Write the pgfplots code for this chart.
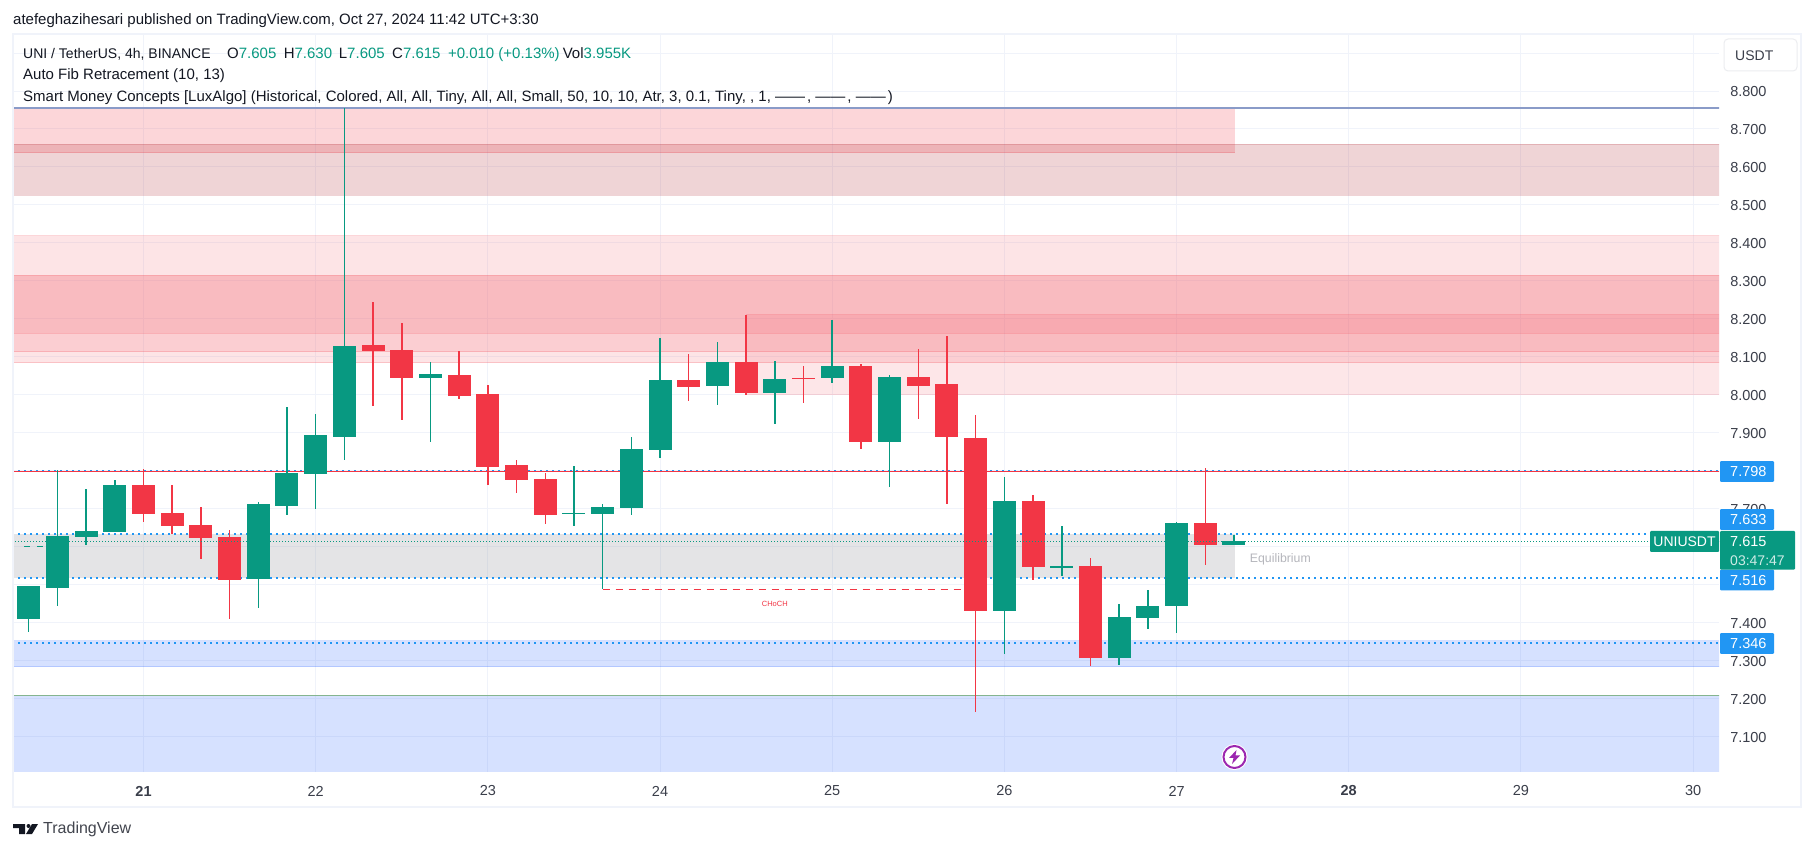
\documentclass[border=0pt]{standalone}
\usepackage{fontspec}
\setmainfont{Liberation Sans}
\usepackage{pgfplots}
\usepackage{pgfplotstable}
\pgfplotsset{compat=1.18}

\definecolor{tvgreen}{HTML}{089981}
\definecolor{tvred}{HTML}{F23645}
\definecolor{tvblue}{HTML}{2196F3}
\definecolor{tvzone}{HTML}{2962FF}
\definecolor{tvgrid}{HTML}{F0F3FA}
\definecolor{tvtext}{HTML}{131722}
\definecolor{tvaxis}{HTML}{3A3E4A}
\definecolor{tvgrey}{HTML}{787B86}
\definecolor{tvmaroon}{HTML}{B22833}
\definecolor{tvpurple}{HTML}{9C27B0}
\definecolor{tvfib}{HTML}{8A9BC8}
\definecolor{tvfibgreen}{HTML}{85B58F}

% i open high low close
\pgfplotstableread{
i open high low close
0 7.410 7.497 7.376 7.497
1 7.492 7.802 7.444 7.629
2 7.626 7.752 7.605 7.642
3 7.639 7.776 7.639 7.763
8 7.515 7.718 7.439 7.713
9 7.708 7.968 7.684 7.794
10 7.792 7.950 7.700 7.895
11 7.889 8.755 7.829 8.129
14 8.045 8.087 7.876 8.055
19 7.687 7.813 7.655 7.689
20 7.687 7.713 7.488 7.705
21 7.702 7.889 7.684 7.858
22 7.855 8.150 7.834 8.039
24 8.024 8.140 7.974 8.087
26 8.005 8.090 7.924 8.042
28 8.045 8.198 8.032 8.076
30 7.876 8.053 7.758 8.047
34 7.431 7.784 7.318 7.721
36 7.544 7.655 7.523 7.549
38 7.307 7.449 7.289 7.415
39 7.412 7.486 7.384 7.444
40 7.444 7.665 7.373 7.663
42 7.605 7.630 7.605 7.615
}\upbars
\pgfplotstableread{
i open high low close
4 7.763 7.804 7.665 7.687
5 7.689 7.763 7.634 7.655
6 7.658 7.705 7.568 7.623
7 7.626 7.644 7.410 7.513
12 8.132 8.245 7.971 8.116
13 8.119 8.190 7.934 8.045
15 8.053 8.116 7.989 7.997
16 8.003 8.026 7.763 7.810
17 7.816 7.829 7.742 7.776
18 7.779 7.794 7.660 7.684
23 8.039 8.108 7.984 8.021
25 8.087 8.211 8.000 8.005
27 8.045 8.076 7.979 8.042
29 8.076 8.082 7.858 7.876
31 8.047 8.121 7.937 8.024
32 8.029 8.155 7.713 7.889
33 7.887 7.947 7.165 7.431
35 7.721 7.736 7.513 7.547
37 7.549 7.571 7.286 7.307
41 7.663 7.808 7.552 7.605
}\downbars

% zone: x0 x1 low high colour opacity
\newcommand{\zone}[6]{%
  \addplot[draw=none,fill=#5,fill opacity=#6] coordinates {(#1,#3)(#2,#3)(#2,#4)(#1,#4)} -- cycle;
  \addplot[#5,line width=1pt,opacity=0.2] coordinates {(#1,#3)(#2,#3)};
  \addplot[#5,line width=1pt,opacity=0.2] coordinates {(#1,#4)(#2,#4)};
}
\newcommand{\dotline}[1]{%
  \addplot[tvblue,line width=2pt,dash pattern=on 2pt off 4pt] coordinates {(-1,#1)(60,#1)};
}
\newcommand{\pricetag}[2]{% y centre from the bottom, text
  \fill[tvblue,rounded corners=1pt] (1720,#1-10.3) rectangle (1774,#1+10.3);
  \node[anchor=west,text=white,inner sep=0pt,font=\fontsize{14.5}{15}\selectfont] at (1730,#1-0.5) {#2};
}
\tikzset{hdr/.style={anchor=base west,text=tvtext,inner sep=0pt,font=\fontsize{15}{16}\selectfont}}

\begin{document}
\begin{tikzpicture}[x=1pt,y=1pt]
\fill[white] (0,0) rectangle (1814,851);
\useasboundingbox (0,0) rectangle (1814,851);
\draw[tvgrid,line width=2pt] (13,44) rectangle (1801,817);
\begin{axis}[
    at={(14pt,79pt)},
    anchor=south west,
    scale only axis,
    width=1705pt,
    height=737pt,
    xmin=-0.513,
    xmax=58.905,
    ymin=7.0068,
    ymax=8.9475,
    axis line style={draw=none},
    major tick length=0pt,
    xtick={4,10,16,22,28,34,40,46,52,58},
    xticklabels={\textbf{21},22,23,24,25,26,27,\textbf{28},29,30},
    ytick={7.1,7.2,7.3,7.4,7.5,7.6,7.7,7.8,7.9,8.0,8.1,8.2,8.3,8.4,8.5,8.6,8.7,8.8,8.9},
    yticklabels={7.100,7.200,7.300,7.400,,,7.700,,7.900,8.000,8.100,8.200,8.300,8.400,8.500,8.600,8.700,8.800,},
    yticklabel pos=right,
    tick label style={font=\fontsize{14.5}{15}\selectfont,text=tvaxis},
    yticklabel style={anchor=west,inner sep=0pt,xshift=11pt,yshift=-0.7pt},
    xticklabel style={anchor=center,inner sep=0pt,yshift=-19pt},
    grid=major,
    grid style={tvgrid,line width=1pt},
    clip=true,
]
% resistance zones, same order the indicator stacks them
\zone{-1}{42.02}{8.638}{8.755}{tvred}{0.2}
\zone{-1}{60}{8.526}{8.660}{tvmaroon}{0.2}
\zone{-1}{60}{8.085}{8.419}{tvred}{0.13}
\zone{-1}{60}{8.114}{8.313}{tvred}{0.12}
\zone{-1}{60}{8.162}{8.313}{tvred}{0.12}
\zone{25}{60}{8.002}{8.211}{tvred}{0.12}
\addplot[tvfib,line width=1.5pt] coordinates {(-1,8.755)(60,8.755)};
% equilibrium band
\addplot[draw=none,fill=tvgrey,fill opacity=0.2] coordinates {(-1,7.518)(42.02,7.518)(42.02,7.634)(-1,7.634)} -- cycle;
% demand zones
\zone{-1}{60}{7.284}{7.353}{tvzone}{0.19}
\addplot[draw=none,fill=tvzone,fill opacity=0.19] coordinates {(-1,6.9)(60,6.9)(60,7.208)(-1,7.208)} -- cycle;
\addplot[tvfibgreen,line width=1.5pt] coordinates {(-1,7.208)(60,7.208)};
% levels
\dotline{7.800}
\dotline{7.634}
\dotline{7.517}
\dotline{7.347}
\addplot[tvred,line width=1.5pt] coordinates {(-1,7.798)(60,7.798)};
\addplot[tvred,line width=1.5pt,dash pattern=on 7pt off 6pt] coordinates {(20,7.488)(33,7.488)};
\addplot[tvgreen,line width=1.5pt,dash pattern=on 6pt off 7pt] coordinates {(-0.15,7.600)(0.55,7.600)};
% wicks
\addplot[draw=none,mark=none,error bars/.cd,y dir=both,y explicit,error mark=none,
    error bar style={tvgreen,line width=1.5pt}]
    table[x=i,y=open,y error plus expr=\thisrow{high}-\thisrow{open},y error minus expr=\thisrow{open}-\thisrow{low}] {\upbars};
\addplot[draw=none,mark=none,error bars/.cd,y dir=both,y explicit,error mark=none,
    error bar style={tvred,line width=1.5pt}]
    table[x=i,y=open,y error plus expr=\thisrow{high}-\thisrow{open},y error minus expr=\thisrow{open}-\thisrow{low}] {\downbars};
% bodies
\addplot[draw=none,mark=none,error bars/.cd,y dir=plus,y explicit,error mark=none,
    error bar style={tvgreen,line width=23pt}]
    table[x=i,y=open,y error plus expr=\thisrow{close}-\thisrow{open}] {\upbars};
\addplot[draw=none,mark=none,error bars/.cd,y dir=plus,y explicit,error mark=none,
    error bar style={tvred,line width=23pt}]
    table[x=i,y=close,y error plus expr=\thisrow{open}-\thisrow{close}] {\downbars};
% last price
\addplot[tvgreen,line width=1pt,dash pattern=on 1pt off 2pt] coordinates {(-1,7.615)(60,7.615)};
\node[text=tvred,font=\fontsize{7.5}{8}\selectfont,inner sep=0pt] at (axis cs:26,7.450) {CHoCH};
\node[text=tvgrey!55,anchor=west,font=\fontsize{12.3}{13}\selectfont,inner sep=0pt] at (axis cs:42.55,7.568) {Equilibrium};
\end{axis}
% header
\node[hdr] at (13,826) {atefeghazihesari published on TradingView.com, Oct 27, 2024 11:42 UTC+3:30};
\node[hdr,font=\fontsize{14}{16}\selectfont] at (23,792) {UNI / TetherUS, 4h, BINANCE};
\node[hdr] at (227,792) {O\textcolor{tvgreen}{7.605}};
\node[hdr] at (283.6,792) {H\textcolor{tvgreen}{7.630}};
\node[hdr] at (338.7,792) {L\textcolor{tvgreen}{7.605}};
\node[hdr] at (392,792) {C\textcolor{tvgreen}{7.615}};
\node[hdr] at (447.8,792) {\textcolor{tvgreen}{+0.010 (+0.13\%)}};
\node[hdr] at (562.6,792) {Vol\textcolor{tvgreen}{3.955K}};
\node[hdr] at (23,771) {Auto Fib Retracement (10, 13)};
\node[hdr] at (23,749) {Smart Money Concepts [LuxAlgo] (Historical, Colored, All, All, Tiny, All, All, Small, 50, 10, 10, Atr, 3, 0.1, Tiny, , 1, ——\hspace{2pt}, ——\hspace{2pt}, ——\hspace{2pt})};
% currency button
\draw[tvgrid!80!gray!50,line width=1pt,fill=white,rounded corners=4pt] (1724,780) rectangle (1797,812);
\node[anchor=west,text=tvaxis,inner sep=0pt,font=\fontsize{14}{15}\selectfont] at (1735,795.5) {USDT};
% price tags
\pricetag{379.5}{7.798}
\pricetag{331.5}{7.633}
\pricetag{271}{7.516}
\pricetag{207.5}{7.346}
\fill[tvgreen,rounded corners=1pt] (1720,281.3) rectangle (1795,320);
\node[anchor=west,text=white,inner sep=0pt,font=\fontsize{14.5}{15}\selectfont] at (1730,309.5) {7.615};
\node[anchor=west,text=white!80!tvgreen,inner sep=0pt,font=\fontsize{14}{15}\selectfont] at (1730,290) {03:47:47};
\fill[tvgreen,rounded corners=1pt] (1650,299) rectangle (1719,320);
\node[text=white,inner sep=0pt,font=\fontsize{14}{15}\selectfont] at (1684.5,309) {UNIUSDT};
% lightning badge
\draw[white,line width=4pt,fill=white] (1234.5,94) circle (11);
\draw[tvpurple,line width=2pt] (1234.5,94) circle (11);
\fill[tvpurple] (1236.5,101) -- (1229,93) -- (1233.5,93) -- (1232,87) -- (1240,95.5) -- (1235.5,95.5) -- cycle;
% footer logo
\fill[tvtext] (13,27) -- (25,27) -- (25,17) -- (19,17) -- (19,23) -- (13,23) -- cycle;
\fill[tvtext] (28.5,25) circle (2);
\fill[tvtext] (32,27) -- (38,27) -- (32,17) -- (26,17) -- cycle;
\node[anchor=west,text=tvtext!80,inner sep=0pt,font=\fontsize{16}{17}\selectfont] at (43,21.5) {TradingView};
\end{tikzpicture}
\end{document}
